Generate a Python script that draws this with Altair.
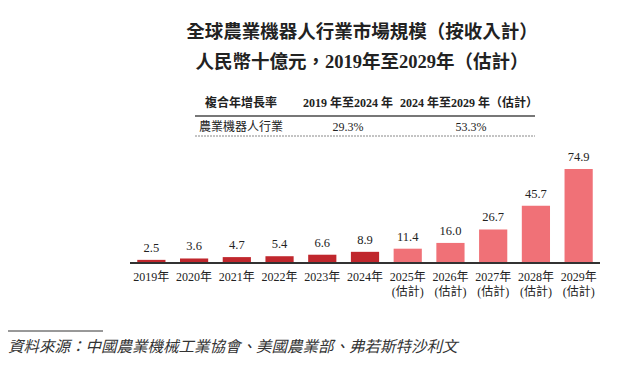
import altair as alt
import pandas as pd

# ---- data ----
years = ["2019", "2020", "2021", "2022", "2023", "2024", "2025", "2026", "2027", "2028", "2029"]
values = [2.5, 3.6, 4.7, 5.4, 6.6, 8.9, 11.4, 16.0, 26.7, 45.7, 74.9]
kinds = ["actual"] * 6 + ["estimate"] * 5
year_labels = [y + "年" if k == "actual" else y + "年\n(估計)" for y, k in zip(years, kinds)]

title_lines = ["全球農業機器人行業市場規模（按收入計）", "人民幣十億元，2019年至2029年（估計）"]
table_header = ["複合年增長率", "2019 年至2024 年", "2024 年至2029 年（估計）"]
table_row = ["農業機器人行業", "29.3%", "53.3%"]
source_text = "資料來源：中國農業機械工業協會、美國農業部、弗若斯特沙利文"

FONT = "Liberation Serif, Noto Sans CJK TC"
DARK = "#C0272D"
LIGHT = "#F07177"

df = pd.DataFrame({"year": years, "value": values, "kind": kinds, "label": year_labels,
                   "vtxt": [f"{v:.1f}" for v in values]})

x_enc = alt.X("year:N", sort=years, axis=None,
              scale=alt.Scale(range=[122, 592], paddingInner=0.34, paddingOuter=0.17))
y_enc = alt.Y("value:Q", axis=None, scale=alt.Scale(domain=[0, 74.9], range=[255, 161]))

base = alt.Chart(df)

bars = base.mark_bar().encode(
    x=x_enc, y=y_enc,
    color=alt.Color("kind:N", legend=None,
                    scale=alt.Scale(domain=["actual", "estimate"], range=[DARK, LIGHT])),
)

vals = base.mark_text(font=FONT, fontSize=12.5, baseline="bottom", dy=-5, color="#222").encode(
    x=x_enc, y=y_enc, text="vtxt:N")

xlabels = base.mark_text(font=FONT, fontSize=12, baseline="middle", lineBreak="\n",
                         lineHeight=15, color="#222").encode(
    x=x_enc, y=alt.value(269), text="label:N")

axis_line = base.mark_rule(color="#333", strokeWidth=1.2).encode(
    x=alt.value(122), x2=alt.value(592), y=alt.value(255))

one = pd.DataFrame({"k": [0]})


def txt(s, x, y, size=12, bold=False, italic=False, align="center", color="#222"):
    return alt.Chart(one).mark_text(
        text=s, font=FONT, fontSize=size, fontWeight="bold" if bold else "normal",
        fontStyle="italic" if italic else "normal", align=align, baseline="middle", color=color
    ).encode(x=alt.value(x), y=alt.value(y))


titles = [txt(title_lines[0], 354, 24, size=18.5, bold=True),
          txt(title_lines[1], 354, 54, size=18.5, bold=True)]

hx = [233, 340, 461]
table = [txt(h, x, 95, size=12, bold=True) for h, x in zip(table_header, hx)]
table += [txt(r, x, 119, size=12) for r, x in zip(table_row, [233, 340, 463])]

solid = alt.Chart(one).mark_rule(color="#777", strokeWidth=2).encode(
    x=alt.value(187), x2=alt.value(527), y=alt.value(108))
dashed = alt.Chart(one).mark_rule(color="#888", strokeWidth=1, strokeDash=[2, 1]).encode(
    x=alt.value(187), x2=alt.value(527), y=alt.value(128))

src_line = alt.Chart(one).mark_rule(color="#333", strokeWidth=1).encode(
    x=alt.value(0), x2=alt.value(95), y=alt.value(323))
src = txt(source_text, 0, 339, size=15.5, italic=True, align="left", color="#333")

chart = alt.layer(bars, vals, xlabels, axis_line, *titles, *table, solid, dashed, src_line, src).properties(
    width=613, height=350, autosize="none", padding=0
).configure_view(stroke=None)

chart.save("out.html", embed_options={"renderer": "svg", "actions": False})
